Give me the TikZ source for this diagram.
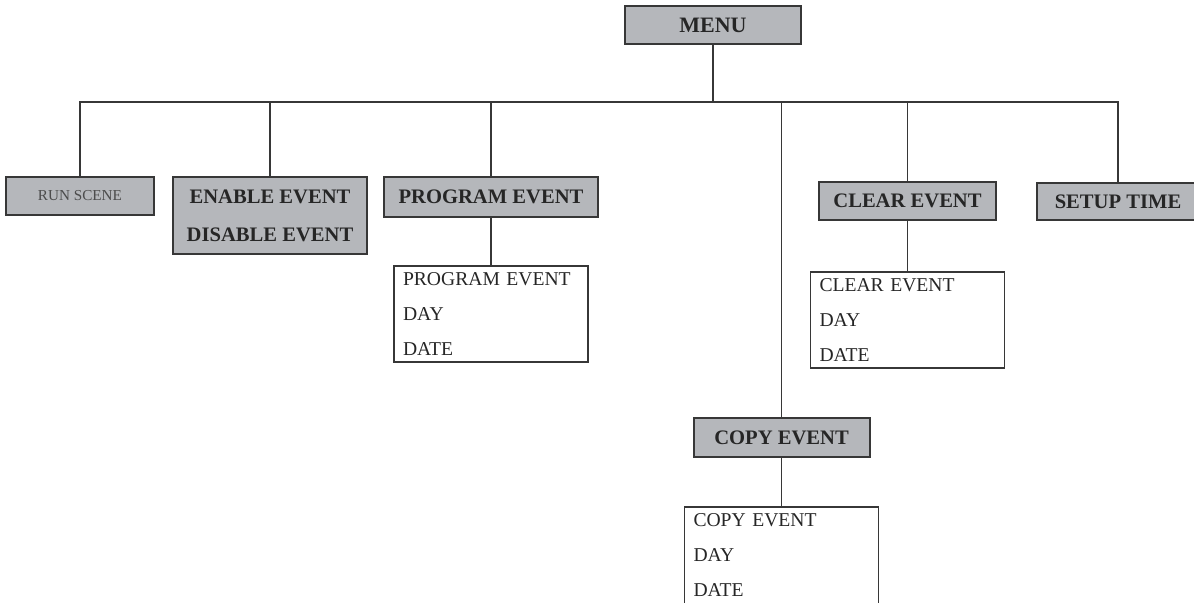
\documentclass[tikz,border=0pt]{standalone}
\usepackage{fontspec}
\setmainfont{Liberation Serif}
\usepackage{tikz}
\usetikzlibrary{positioning}
\definecolor{boxgray}{RGB}{181,183,187}
\definecolor{edgegray}{RGB}{55,55,55}
\tikzstyle{menubox} = [rectangle, draw=edgegray, line width=1pt, fill=boxgray, text centered, inner sep=0pt, font=\fontsize{10.3}{19}\selectfont\bfseries, text=black!85]
\tikzstyle{listbox} = [rectangle, draw=edgegray, line width=0.9pt, fill=white, align=left, text width=88pt, inner xsep=4.5pt, inner ysep=0pt, minimum height=48pt, font=\fontsize{9.8}{17.5}\selectfont, text=black!85]
\tikzstyle{branch} = [edgegray, line width=0.9pt]

\begin{document}
\begin{tikzpicture}[x=0.5pt, y=-0.5pt]
  \useasboundingbox (0,0) rectangle (1194,602);
  \node[menubox, minimum width=88pt, minimum height=19pt, font=\fontsize{11}{13}\selectfont\bfseries] (menu) at (713,25) {MENU};
  \node[menubox, minimum width=74pt, minimum height=19pt, font=\fontsize{7.6}{9}\selectfont, text=black!70] (run) at (80,196) {RUN SCENE};
  \node[menubox, minimum width=97pt, minimum height=38.5pt, align=center] (enable) at (270,215.5) {ENABLE EVENT\\DISABLE EVENT};
  \node[menubox, minimum width=107pt, minimum height=20pt] (program) at (491,197) {PROGRAM EVENT};
  \node[listbox, below=23.5pt of program] (programsub) {PROGRAM EVENT\\DAY\\DATE};
  \node[menubox, minimum width=88.5pt, minimum height=19pt] (clear) at (907.5,201) {CLEAR EVENT};
  \node[listbox, below=25pt of clear] (clearsub) {CLEAR EVENT\\DAY\\DATE};
  \node[menubox, minimum width=81pt, minimum height=18.5pt] (setup) at (1118,201.5) {SETUP TIME};
  \node[menubox, minimum width=88pt, minimum height=19.5pt] (copy) at (781.5,437.5) {COPY EVENT};
  \node[listbox, below=24pt of copy, minimum height=48.5pt] (copysub) {COPY EVENT\\DAY\\DATE};

  \coordinate (bus) at (713,102);
  \draw[branch] (menu) -- (bus);
  \foreach \child in {run, enable, program, copy, clear, setup}
    \draw[branch] (bus) -| (\child.north);
  \draw[branch] (program) -- (programsub);
  \draw[branch] (clear) -- (clearsub);
  \draw[branch] (copy) -- (copysub);
\end{tikzpicture}
\end{document}
